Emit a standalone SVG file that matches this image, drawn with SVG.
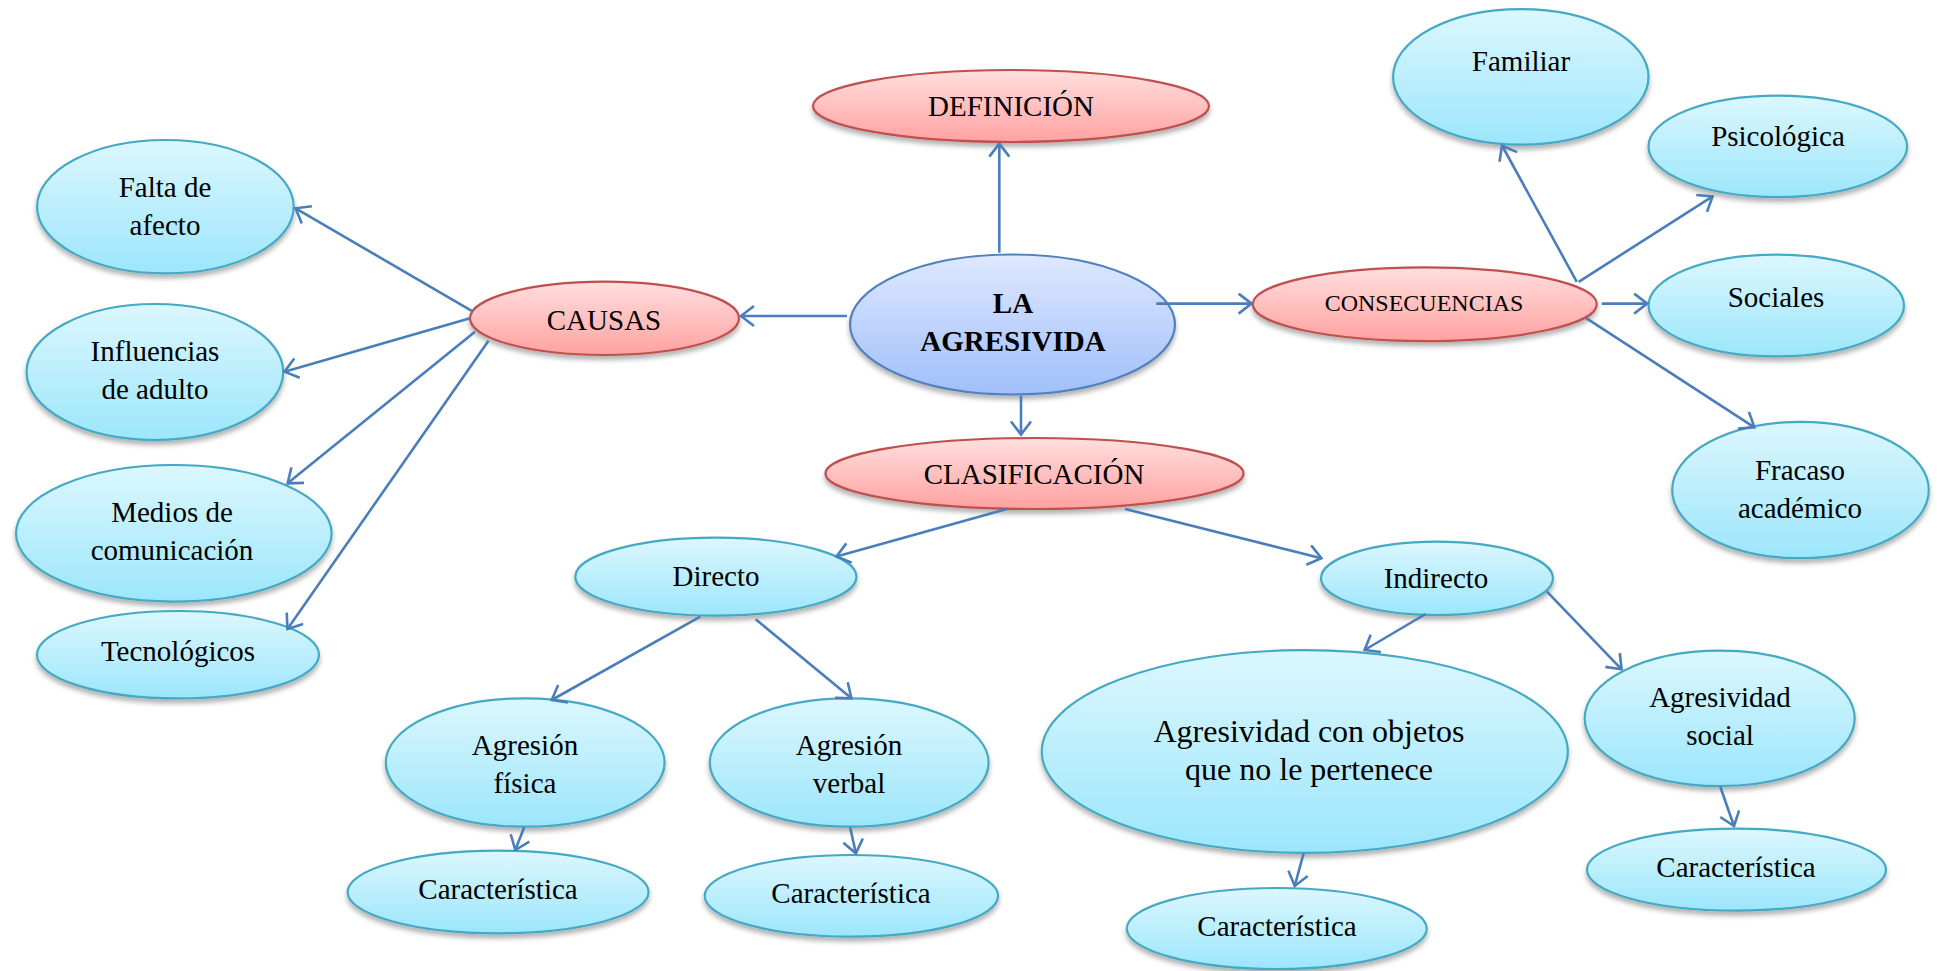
<svg xmlns="http://www.w3.org/2000/svg" width="1937" height="971" viewBox="0 0 1937 971">
<style>
.aq{fill:url(#gAqua);stroke:#44a9c4;stroke-width:2.2;filter:url(#sh)}
.pk{fill:url(#gPink);stroke:#c0504d;stroke-width:2.2;filter:url(#sh)}
.bl{fill:url(#gBlue);stroke:#4f81bd;stroke-width:2.2;filter:url(#sh)}
text{font-family:"Liberation Serif","Times New Roman",serif;font-size:29px;fill:#000;text-anchor:middle}
.b{font-weight:bold}
.sm{font-size:24px}
.lg{font-size:32px}
.c line{stroke:#4a7ebb;stroke-width:2.6;marker-end:url(#arr)}
</style>
<defs>
<linearGradient id="gAqua" x1="0" y1="0" x2="0" y2="1"><stop offset="0" stop-color="#dcf7fe"/><stop offset="1" stop-color="#9ce6fb"/></linearGradient>
<linearGradient id="gPink" x1="0" y1="0" x2="0" y2="1"><stop offset="0" stop-color="#ffdfde"/><stop offset="1" stop-color="#ffa2a1"/></linearGradient>
<linearGradient id="gBlue" x1="0" y1="0" x2="0" y2="1"><stop offset="0" stop-color="#dfe8ff"/><stop offset="1" stop-color="#a0bffa"/></linearGradient>
<filter id="sh" x="-10%" y="-10%" width="120%" height="130%"><feDropShadow dx="0" dy="4" stdDeviation="2.5" flood-color="#000" flood-opacity="0.3"/></filter>
<marker id="arr" markerUnits="userSpaceOnUse" markerWidth="30" markerHeight="30" refX="15" refY="11" orient="auto"><path d="M2,1 L15,11 L2,21" fill="none" stroke="#4a7ebb" stroke-width="2.6"/></marker>
</defs>

<g id="n-definicion"><ellipse class="pk" cx="1011" cy="106" rx="198" ry="36"/><text x="1011" y="116">DEFINICIÓN</text></g>
<g id="n-agresividad"><ellipse class="bl" cx="1012.5" cy="324.5" rx="162.5" ry="70"/><text class="b" x="1013" y="313">LA</text><text class="b" x="1013" y="351">AGRESIVIDA</text></g>
<g id="n-causas"><ellipse class="pk" cx="604.5" cy="318.3" rx="134.5" ry="36.7"/><text x="604" y="330">CAUSAS</text></g>
<g id="n-consecuencias"><ellipse class="pk" cx="1424.8" cy="304.2" rx="172" ry="36.9"/><text class="sm" x="1424" y="311">CONSECUENCIAS</text></g>
<g id="n-clasificacion"><ellipse class="pk" cx="1034.5" cy="473.5" rx="209" ry="35.5"/><text x="1034" y="484">CLASIFICACIÓN</text></g>

<g id="n-falta"><ellipse class="aq" cx="165.4" cy="206.7" rx="128.3" ry="66.7"/><text x="165" y="197">Falta de</text><text x="165" y="235">afecto</text></g>
<g id="n-influencias"><ellipse class="aq" cx="154.9" cy="372" rx="128.3" ry="68"/><text x="155" y="361">Influencias</text><text x="155" y="399">de adulto</text></g>
<g id="n-medios"><ellipse class="aq" cx="173.8" cy="533.3" rx="157.8" ry="68.3"/><text x="172" y="522">Medios de</text><text x="172" y="560">comunicación</text></g>
<g id="n-tecnologicos"><ellipse class="aq" cx="178" cy="654.7" rx="141" ry="43.7"/><text x="178" y="661">Tecnológicos</text></g>

<g id="n-familiar"><ellipse class="aq" cx="1520.8" cy="76.9" rx="127.7" ry="67.8"/><text x="1521" y="71">Familiar</text></g>
<g id="n-psicologica"><ellipse class="aq" cx="1777.8" cy="146.4" rx="129.3" ry="50.7"/><text x="1778" y="146">Psicológica</text></g>
<g id="n-sociales"><ellipse class="aq" cx="1776.3" cy="305.5" rx="127.7" ry="50.9"/><text x="1776" y="307">Sociales</text></g>
<g id="n-fracaso"><ellipse class="aq" cx="1800.5" cy="490" rx="128.3" ry="68.2"/><text x="1800" y="480">Fracaso</text><text x="1800" y="518">académico</text></g>

<g id="n-directo"><ellipse class="aq" cx="715.9" cy="576.7" rx="140.6" ry="39"/><text x="716" y="586">Directo</text></g>
<g id="n-indirecto"><ellipse class="aq" cx="1437" cy="578.3" rx="116" ry="36.7"/><text x="1436" y="588">Indirecto</text></g>

<g id="n-fisica"><ellipse class="aq" cx="525.2" cy="762.5" rx="139.4" ry="64.2"/><text x="525" y="755">Agresión</text><text x="525" y="793">física</text></g>
<g id="n-verbal"><ellipse class="aq" cx="849.2" cy="762.5" rx="139.4" ry="64.2"/><text x="849" y="755">Agresión</text><text x="849" y="793">verbal</text></g>
<g id="n-car1"><ellipse class="aq" cx="498.1" cy="892" rx="150.5" ry="41.3"/><text x="498" y="899">Característica</text></g>
<g id="n-car2"><ellipse class="aq" cx="851.4" cy="895.8" rx="146.7" ry="40.8"/><text x="851" y="903">Característica</text></g>

<g id="n-objetos"><ellipse class="aq" cx="1304.8" cy="751.5" rx="263" ry="101.4"/><text class="lg" x="1309" y="742">Agresividad con objetos</text><text class="lg" x="1309" y="780">que no le pertenece</text></g>
<g id="n-social"><ellipse class="aq" cx="1719.7" cy="718.3" rx="135" ry="67.7"/><text x="1720" y="707">Agresividad</text><text x="1720" y="745">social</text></g>
<g id="n-car3"><ellipse class="aq" cx="1276.8" cy="928.5" rx="150" ry="40.5"/><text x="1277" y="936">Característica</text></g>
<g id="n-car4"><ellipse class="aq" cx="1736.5" cy="869.7" rx="149.5" ry="41"/><text x="1736" y="877">Característica</text></g>

<g id="connectors" class="c">
<line x1="999.3" y1="252.7" x2="999.3" y2="143.6"/>
<line x1="847" y1="316" x2="741" y2="316"/>
<line x1="1156.3" y1="303.6" x2="1251.6" y2="303.6"/>
<line x1="1021" y1="395.6" x2="1021" y2="434.5"/>
<line x1="473" y1="311.7" x2="295.6" y2="208.3"/>
<line x1="470" y1="318.3" x2="284.5" y2="371.7"/>
<line x1="475" y1="331.7" x2="287.6" y2="483.3"/>
<line x1="488.5" y1="340.7" x2="287.5" y2="629"/>
<line x1="1576.8" y1="281.8" x2="1502" y2="145.5"/>
<line x1="1578.7" y1="281.8" x2="1712.6" y2="196.4"/>
<line x1="1601.7" y1="303.6" x2="1647.2" y2="303.6"/>
<line x1="1586.2" y1="318.2" x2="1754.4" y2="427.3"/>
<line x1="1006.8" y1="509" x2="836.5" y2="556.5"/>
<line x1="1125.1" y1="509" x2="1321.4" y2="558.2"/>
<line x1="700.3" y1="616.7" x2="551.7" y2="700"/>
<line x1="755.7" y1="619.3" x2="851.4" y2="698.3"/>
<line x1="524.2" y1="827.3" x2="515.3" y2="850"/>
<line x1="850.1" y1="827.3" x2="855.9" y2="853.3"/>
<line x1="1425.6" y1="614" x2="1364.6" y2="650"/>
<line x1="1547" y1="591.7" x2="1621.6" y2="669.3"/>
<line x1="1720.3" y1="786.7" x2="1734" y2="826"/>
<line x1="1303.6" y1="853.3" x2="1294.7" y2="886"/>
</g>
</svg>
